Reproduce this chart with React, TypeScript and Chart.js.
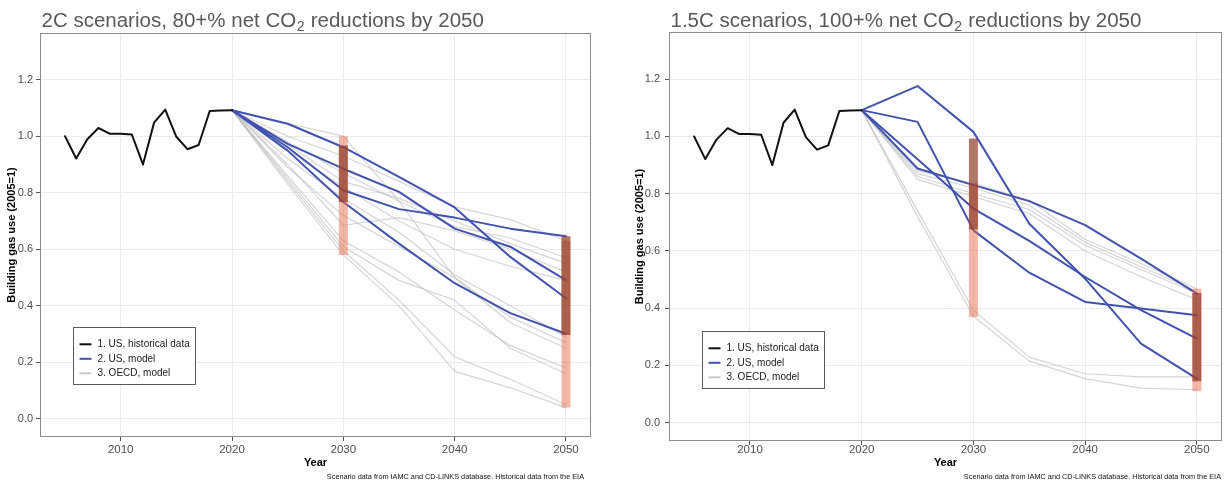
import React, { useEffect, useRef } from 'react';
import { Chart, registerables } from 'chart.js';

Chart.register(...registerables);

// ---- data -------------------------------------------------------------
const histYears = [2005, 2006, 2007, 2008, 2009, 2010, 2011, 2012, 2013, 2014, 2015, 2016, 2017, 2018, 2019, 2020];
const histUS = [1.0, 0.921, 0.989, 1.029, 1.009, 1.009, 1.006, 0.9, 1.048, 1.094, 0.998, 0.954, 0.969, 1.089, 1.091, 1.092];

const modelYears = [2020, 2025, 2030, 2035, 2040, 2045, 2050];

// 2C scenarios
const usModel2C = [
  [1.092, 1.044, 0.961, 0.856, 0.748, 0.573, 0.427],
  [1.092, 0.973, 0.885, 0.803, 0.673, 0.609, 0.491],
  [1.092, 0.961, 0.809, 0.742, 0.712, 0.673, 0.646],
  [1.092, 0.949, 0.767, 0.62, 0.48, 0.374, 0.301],
];
const oecdModel2C = [
  [1.092, 1.045, 1.0, 0.77, 0.5, 0.36, 0.27],
  [1.092, 1.0, 0.93, 0.84, 0.75, 0.705, 0.63],
  [1.092, 0.98, 0.87, 0.77, 0.68, 0.64, 0.57],
  [1.092, 0.97, 0.84, 0.78, 0.7, 0.62, 0.55],
  [1.092, 0.95, 0.82, 0.7, 0.6, 0.54, 0.49],
  [1.092, 0.9, 0.685, 0.712, 0.665, 0.6, 0.52],
  [1.092, 0.92, 0.78, 0.66, 0.51, 0.4, 0.29],
  [1.092, 0.89, 0.72, 0.61, 0.5, 0.34, 0.25],
  [1.092, 0.86, 0.63, 0.52, 0.385, 0.26, 0.18],
  [1.092, 0.85, 0.61, 0.49, 0.42, 0.25, 0.16],
  [1.092, 0.84, 0.595, 0.42, 0.22, 0.14, 0.05],
  [1.092, 0.83, 0.58, 0.4, 0.168, 0.11, 0.04],
];

// 1.5C scenarios
const usModel15C = [
  [1.092, 1.176, 1.016, 0.695, 0.503, 0.276, 0.154],
  [1.092, 1.051, 0.672, 0.524, 0.422, 0.399, 0.375],
  [1.092, 0.888, 0.83, 0.774, 0.69, 0.573, 0.451],
  [1.092, 0.92, 0.748, 0.635, 0.509, 0.393, 0.294],
];
const oecdModel15C = [
  [1.092, 0.88, 0.836, 0.777, 0.64, 0.556, 0.468],
  [1.092, 0.87, 0.82, 0.76, 0.63, 0.545, 0.46],
  [1.092, 0.86, 0.8, 0.745, 0.62, 0.535, 0.452],
  [1.092, 0.85, 0.79, 0.73, 0.6, 0.51, 0.43],
  [1.092, 0.74, 0.393, 0.229, 0.171, 0.16, 0.16],
  [1.092, 0.72, 0.372, 0.215, 0.154, 0.121, 0.115],
];

// range bars (min, max) in 2030 and 2050
const rangeYears = [2030, 2050];
const oecdRange2C = [[0.58, 1.0], [0.04, 0.63]];
const usRange2C = [[0.767, 0.967], [0.297, 0.646]];
const oecdRange15C = [[0.369, 0.836], [0.11, 0.468]];
const usRange15C = [[0.675, 0.993], [0.145, 0.453]];

const xTicks = [2010, 2020, 2030, 2040, 2050];
const yTicks = [0, 0.2, 0.4, 0.6, 0.8, 1.0, 1.2];
const legendLabels = ['1. US, historical data', '2. US, model', '3. OECD, model'];
const title2C = ['2C scenarios, 80+% net CO', '2', ' reductions by 2050'];
const title15C = ['1.5C scenarios, 100+% net CO', '2', ' reductions by 2050'];
const yTitle = 'Building gas use (2005=1)';
const xTitle = 'Year';
const sourceNote = 'Scenario data from IAMC and CD-LINKS database. Historical data from the EIA';

// ---- styling -----------------------------------------------------------
const FONT = '"Liberation Sans", Arial, Helvetica, sans-serif';
const BLACK = '#111111';
const BLUE = '#4052AE';
const GREY = 'rgba(185,185,185,0.6)';
const GREY_KEY = '#C8C8C8';
const LIGHT = 'rgba(232,110,80,0.5)';
const DARK = 'rgba(140,55,35,0.68)';
const GRID = '#EBEBEB';
const TICK_TEXT = '#4D4D4D';

// frame, legend, title with subscript and source note
const decorations = {
  id: 'decorations',
  afterDatasetsDraw(chart: any) {
    const { ctx, chartArea: a } = chart;
    ctx.save();
    // panel frame
    ctx.strokeStyle = '#8C8C8C';
    ctx.lineWidth = 1;
    ctx.strokeRect(a.left + 0.5, a.top + 0.5, a.right - a.left - 1, a.bottom - a.top - 1);

    // legend box
    const bx = Math.round(a.left + 33) + 0.5;
    const by = Math.round(a.bottom - 110.5) + 0.5;
    const bw = 122;
    const bh = 57;
    ctx.fillStyle = '#FFFFFF';
    ctx.fillRect(bx, by, bw, bh);
    ctx.strokeStyle = '#5A5A5A';
    ctx.strokeRect(bx, by, bw, bh);
    const keyColors = [BLACK, BLUE, GREY_KEY];
    const rows = [16.8, 31.3, 45.8];
    ctx.font = `10px ${FONT}`;
    ctx.textBaseline = 'middle';
    ctx.textAlign = 'left';
    legendLabels.forEach((label, i) => {
      const y = by + rows[i];
      ctx.strokeStyle = keyColors[i];
      ctx.lineWidth = 2;
      ctx.beginPath();
      ctx.moveTo(bx + 6, y);
      ctx.lineTo(bx + 18, y);
      ctx.stroke();
      ctx.fillStyle = '#1A1A1A';
      ctx.fillText(label, bx + 24, y);
    });
    ctx.restore();
  },
  afterDraw(chart: any, _args: any, opts: any) {
    const { ctx, chartArea: a } = chart;
    ctx.save();
    // title, with a subscript for CO2
    const [pre, sub, post] = opts.title;
    const big = `20.5px ${FONT}`;
    const small = `14px ${FONT}`;
    ctx.fillStyle = '#595959';
    ctx.textBaseline = 'alphabetic';
    ctx.textAlign = 'left';
    let x = a.left + 1.5;
    const y = 27;
    ctx.font = big;
    ctx.fillText(pre, x, y);
    x += ctx.measureText(pre).width + 0.5;
    ctx.font = small;
    ctx.fillText(sub, x, y + 4);
    x += ctx.measureText(sub).width + 0.5;
    ctx.font = big;
    ctx.fillText(post, x, y);

    // source note
    ctx.font = `7.3px ${FONT}`;
    ctx.fillStyle = '#111111';
    ctx.textAlign = 'right';
    ctx.textBaseline = 'middle';
    ctx.fillText(sourceNote, opts.noteRight, 476.5);
    ctx.restore();
  },
};

type PanelSetup = {
  us: number[][];
  oecd: number[][];
  usRange: number[][];
  oecdRange: number[][];
  title: string[];
  padding: { top: number; right: number; bottom: number; left: number };
  yWidth: number;
  xHeight: number;
  xTickPad: number;
  yTickPad: number;
  yTitlePad: number;
  noteRight: number;
};

function buildConfig(s: PanelSetup): any {
  const pts = (ys: number[]) => modelYears.map((x, i) => ({ x, y: ys[i] }));
  const bar = (ranges: number[][], color: string, order: number) => ({
    type: 'bar',
    data: rangeYears.map((x, i) => ({ x, y: ranges[i] })),
    backgroundColor: color,
    borderWidth: 0,
    grouped: false,
    maxBarThickness: 9,
    order,
  });
  const line = (data: { x: number; y: number }[], color: string, width: number, order: number) => ({
    type: 'line',
    data,
    borderColor: color,
    borderWidth: width,
    pointRadius: 0,
    tension: 0,
    fill: false,
    borderJoinStyle: 'round',
    borderCapStyle: 'round',
    order,
  });

  const datasets = [
    bar(s.usRange, DARK, 0),
    bar(s.oecdRange, LIGHT, 1),
    line(histYears.map((x, i) => ({ x, y: histUS[i] })), BLACK, 2, 2),
    ...s.us.map((ys) => line(pts(ys), BLUE, 2, 3)),
    ...s.oecd.map((ys) => line(pts(ys), GREY, 1.2, 4)),
  ];

  return {
    type: 'line',
    data: { datasets },
    plugins: [decorations],
    options: {
      responsive: false,
      animation: false,
      devicePixelRatio: 1,
      layout: { padding: s.padding },
      plugins: {
        legend: { display: false },
        tooltip: { enabled: false },
        decorations: { title: s.title, noteRight: s.noteRight },
      },
      scales: {
        x: {
          type: 'linear',
          min: 2002.75,
          max: 2052.25,
          offset: false,
          afterBuildTicks: (scale: any) => {
            scale.ticks = xTicks.map((value) => ({ value }));
          },
          afterFit: (scale: any) => {
            scale.height = s.xHeight;
          },
          grid: { offset: false, color: GRID, lineWidth: 1, tickColor: '#555555', tickLength: 4, drawTicks: true },
          border: { display: false },
          ticks: {
            color: TICK_TEXT,
            font: { family: FONT, size: 11.5 },
            padding: s.xTickPad,
            maxRotation: 0,
            autoSkip: false,
            callback: (v: any) => String(v),
          },
          title: {
            display: true,
            text: xTitle,
            color: '#000000',
            font: { family: FONT, size: 11, weight: 'bold' },
            padding: { top: 0, bottom: 11.4 },
          },
        },
        y: {
          type: 'linear',
          min: -0.064,
          max: 1.365,
          afterBuildTicks: (scale: any) => {
            scale.ticks = yTicks.map((value) => ({ value }));
          },
          afterFit: (scale: any) => {
            scale.width = s.yWidth;
          },
          grid: { offset: false, color: GRID, lineWidth: 1, tickColor: '#555555', tickLength: 4, drawTicks: true },
          border: { display: false },
          ticks: {
            color: TICK_TEXT,
            font: { family: FONT, size: 11 },
            padding: s.yTickPad,
            autoSkip: false,
            callback: (v: any) => Number(v).toFixed(1),
          },
          title: {
            display: true,
            text: yTitle,
            color: '#000000',
            font: { family: FONT, size: 11, weight: 'bold' },
            padding: { top: s.yTitlePad, bottom: 0 },
          },
        },
      },
    },
  };
}

const panel2C: PanelSetup = {
  us: usModel2C,
  oecd: oecdModel2C,
  usRange: usRange2C,
  oecdRange: oecdRange2C,
  title: title2C,
  padding: { top: 33, right: 13, bottom: 0, left: 0 },
  yWidth: 40,
  xHeight: 44,
  xTickPad: 2,
  yTickPad: 3,
  yTitlePad: 5.4,
  noteRight: 584,
};

const panel15C: PanelSetup = {
  us: usModel15C,
  oecd: oecdModel15C,
  usRange: usRange15C,
  oecdRange: oecdRange15C,
  title: title15C,
  padding: { top: 32, right: 3, bottom: 0, left: 0 },
  yWidth: 57,
  xHeight: 40,
  xTickPad: -2,
  yTickPad: 5,
  yTitlePad: 21.4,
  noteRight: 609,
};

function Panel({ left, width, setup }: { left: number; width: number; setup: PanelSetup }) {
  const ref = useRef<HTMLCanvasElement>(null);
  useEffect(() => {
    if (!ref.current) return;
    const chart = new Chart(ref.current, buildConfig(setup));
    return () => chart.destroy();
  }, [setup]);
  return <canvas ref={ref} width={width} height={481} style={{ position: 'absolute', left, top: 0 }} />;
}

export default function App() {
  useEffect(() => {
    document.body.style.margin = '0';
  }, []);
  return (
    <div style={{ position: 'relative', width: 1225, height: 481, background: '#FFFFFF', overflow: 'hidden' }}>
      <Panel left={0} width={604} setup={panel2C} />
      <Panel left={612} width={613} setup={panel15C} />
    </div>
  );
}
